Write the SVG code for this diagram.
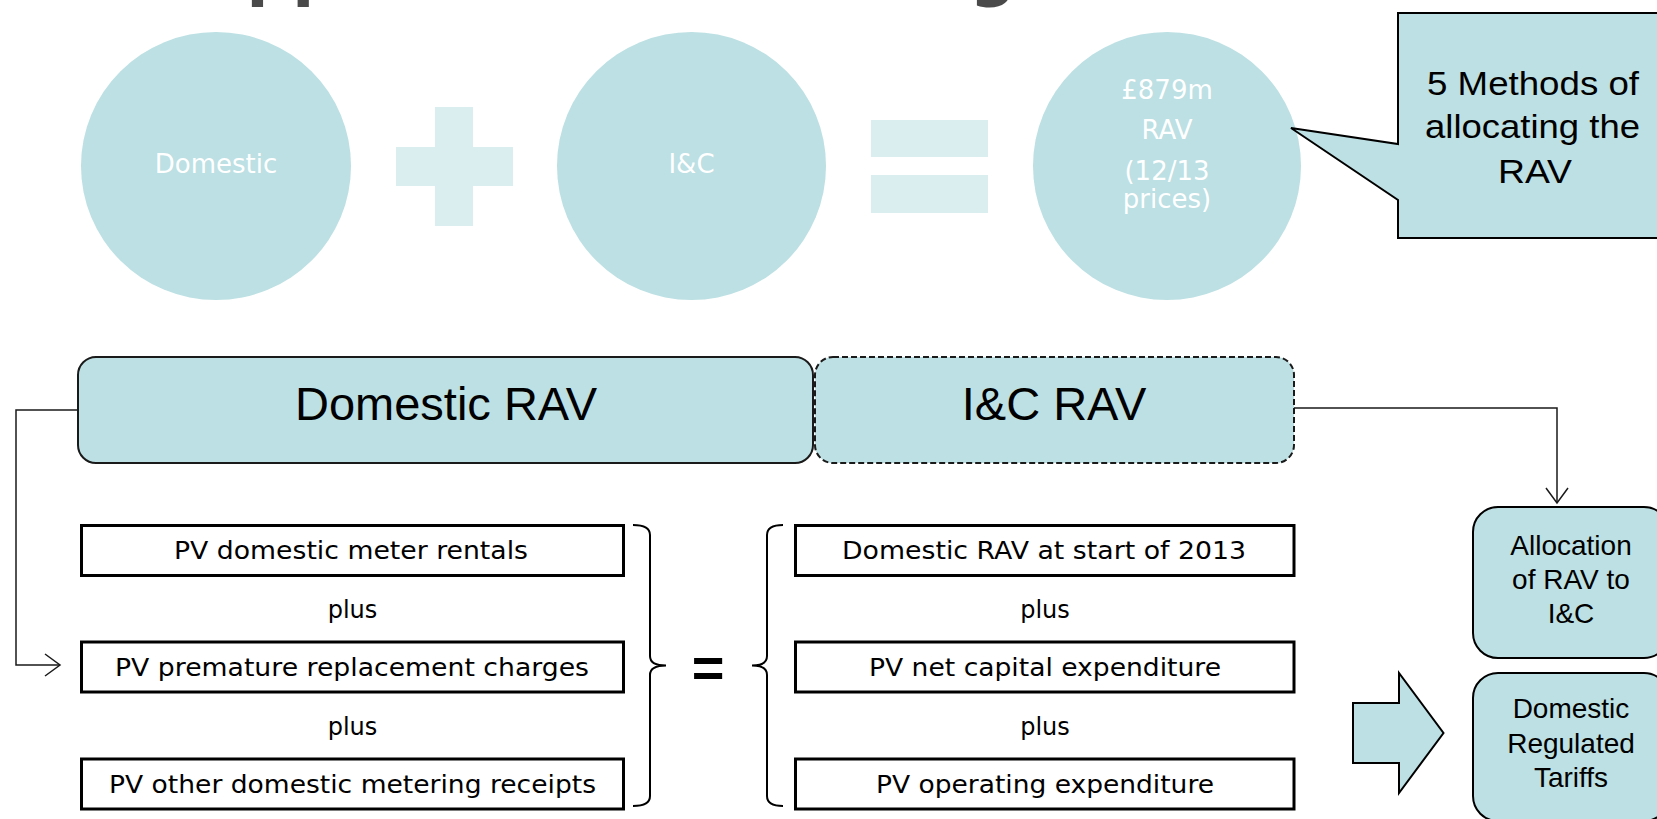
<svg xmlns="http://www.w3.org/2000/svg" width="1657" height="819" viewBox="0 0 1657 819">
  <defs>
    <style>
      .bubble { fill: #bce0e3; }
      .sym { fill: #daedef; }
      .bubble-text { font-family: "DejaVu Sans", Verdana, sans-serif; font-size: 26px; fill: #ffffff; text-anchor: middle; }
      .panel { fill: #bce0e3; stroke: #1a1a1a; stroke-width: 2; }
      .panel-dashed { fill: #bce0e3; stroke: #1a1a1a; stroke-width: 2; stroke-dasharray: 6 3; }
      .panel-title { font-family: "Liberation Sans", Arial, sans-serif; font-size: 47px; fill: #000; text-anchor: middle; }
      .item { fill: #ffffff; stroke: #000; stroke-width: 3; }
      .item-text { font-family: "DejaVu Sans", Verdana, sans-serif; font-size: 24px; fill: #000; }
      .plus { font-family: "DejaVu Sans", Verdana, sans-serif; font-size: 24px; fill: #000; text-anchor: middle; }
      .brace { fill: none; stroke: #000; stroke-width: 2; }
      .side { fill: #bce0e3; stroke: #000; stroke-width: 2; }
      .side-text { font-family: "Liberation Sans", Arial, sans-serif; font-size: 28px; fill: #000; text-anchor: middle; }
      .callout-text { font-family: "Liberation Sans", Arial, sans-serif; font-size: 33px; fill: #000; }
      .link { fill: none; stroke: #1a1a1a; stroke-width: 1.5; }
    </style>
    <marker id="open-arrow" markerUnits="userSpaceOnUse" viewBox="0 0 18 24" refX="16" refY="12" markerWidth="18" markerHeight="24" orient="auto">
      <path d="M1,1 L16,12 L1,23" fill="none" stroke="#1a1a1a" stroke-width="1.5"/>
    </marker>
  </defs>

  <rect width="1657" height="819" fill="#ffffff"/>

  <!-- heading (runs off the top edge) -->
  <text x="197" y="-6" font-family="DejaVu Sans, Verdana, sans-serif" font-weight="bold" font-size="64" fill="#4a4a4a">Approach to allocating</text>

  <!-- top row: Domestic + I&C = RAV -->
  <g id="circle-domestic">
    <ellipse class="bubble" cx="216" cy="166" rx="135" ry="134"/>
    <text class="bubble-text" x="216" y="173">Domestic</text>
  </g>
  <g id="sign-plus">
    <rect class="sym" x="396" y="147" width="117" height="39"/>
    <rect class="sym" x="435" y="107" width="38" height="119"/>
  </g>
  <g id="circle-ic">
    <ellipse class="bubble" cx="691.5" cy="166" rx="134.5" ry="134"/>
    <text class="bubble-text" x="691.5" y="173">I&amp;C</text>
  </g>
  <g id="sign-equals">
    <rect class="sym" x="871" y="120" width="117" height="37"/>
    <rect class="sym" x="871" y="175" width="117" height="38"/>
  </g>
  <g id="circle-rav">
    <ellipse class="bubble" cx="1167" cy="166" rx="134" ry="134"/>
    <text class="bubble-text" x="1167" y="99">£879m</text>
    <text class="bubble-text" x="1167" y="139">RAV</text>
    <text class="bubble-text" x="1167" y="180">(12/13</text>
    <text class="bubble-text" x="1167" y="208">prices)</text>
  </g>

  <g id="callout-methods">
    <path class="side" d="M1398,13 H1672 V238 H1398 V200 L1291,128 L1398,144 Z"/>
    <text class="callout-text" x="1427" y="95" textLength="212" lengthAdjust="spacingAndGlyphs">5 Methods of</text>
    <text class="callout-text" x="1425" y="138" textLength="215" lengthAdjust="spacingAndGlyphs">allocating the</text>
    <text class="callout-text" x="1498" y="183" textLength="74" lengthAdjust="spacingAndGlyphs">RAV</text>
  </g>

  <!-- RAV split -->
  <g id="panel-domestic-rav">
    <rect class="panel" x="78" y="357" width="735" height="106" rx="18"/>
    <text class="panel-title" x="446" y="420">Domestic RAV</text>
  </g>
  <g id="panel-ic-rav">
    <rect class="panel-dashed" x="815" y="357" width="479" height="106" rx="18"/>
    <text class="panel-title" x="1054" y="420">I&amp;C RAV</text>
  </g>

  <!-- left-hand present values -->
  <g id="item-meter-rentals">
    <rect class="item" x="81.5" y="525.5" width="542" height="50"/>
    <text class="item-text" x="174" y="559" textLength="354" lengthAdjust="spacingAndGlyphs">PV domestic meter rentals</text>
  </g>
  <text class="plus" x="352.5" y="618">plus</text>
  <g id="item-replacement-charges">
    <rect class="item" x="81.5" y="642" width="542" height="50"/>
    <text class="item-text" x="115" y="676" textLength="474" lengthAdjust="spacingAndGlyphs">PV premature replacement charges</text>
  </g>
  <text class="plus" x="352.5" y="735">plus</text>
  <g id="item-other-receipts">
    <rect class="item" x="81.5" y="759" width="542" height="50"/>
    <text class="item-text" x="109" y="793" textLength="487" lengthAdjust="spacingAndGlyphs">PV other domestic metering receipts</text>
  </g>

  <g id="brace-left-group">
    <path class="brace" d="M633,525 Q650,525 650,535 V656 Q650,665.5 666,665.5 Q650,665.5 650,675 V796 Q650,806 633,806"/>
  </g>
  <g id="equals-sign">
    <text x="708" y="687" font-family="Liberation Sans, Arial, sans-serif" font-weight="bold" font-size="56" text-anchor="middle" fill="#000">=</text>
  </g>
  <g id="brace-right-group">
    <path class="brace" d="M783,525 Q767,525 767,535 V656 Q767,665.5 752,665.5 Q767,665.5 767,675 V796 Q767,806 783,806"/>
  </g>

  <!-- right-hand building blocks -->
  <g id="item-rav-2013">
    <rect class="item" x="795.5" y="525.5" width="498.5" height="50"/>
    <text class="item-text" x="842" y="559" textLength="404" lengthAdjust="spacingAndGlyphs">Domestic RAV at start of 2013</text>
  </g>
  <text class="plus" x="1045" y="618">plus</text>
  <g id="item-net-capex">
    <rect class="item" x="795.5" y="642" width="498.5" height="50"/>
    <text class="item-text" x="869" y="676" textLength="352" lengthAdjust="spacingAndGlyphs">PV net capital expenditure</text>
  </g>
  <text class="plus" x="1045" y="735">plus</text>
  <g id="item-opex">
    <rect class="item" x="795.5" y="759" width="498.5" height="50"/>
    <text class="item-text" x="876" y="793" textLength="338" lengthAdjust="spacingAndGlyphs">PV operating expenditure</text>
  </g>

  <g id="block-arrow">
    <path class="side" stroke-width="1.5" d="M1353,703 H1399 V673 L1443.5,733 L1399,793 V763 H1353 Z"/>
  </g>

  <g id="box-allocation">
    <rect class="side" x="1473" y="507" width="196" height="151" rx="25"/>
    <text class="side-text" x="1571" y="555">Allocation</text>
    <text class="side-text" x="1571" y="589">of RAV to</text>
    <text class="side-text" x="1571" y="623">I&amp;C</text>
  </g>
  <g id="box-tariffs">
    <rect class="side" x="1473" y="673" width="196" height="148" rx="25"/>
    <text class="side-text" x="1571" y="718">Domestic</text>
    <text class="side-text" x="1571" y="753">Regulated</text>
    <text class="side-text" x="1571" y="787">Tariffs</text>
  </g>

  <!-- connectors -->
  <g id="connectors">
    <path class="link" d="M78,410 H16 V665 H60" marker-end="url(#open-arrow)"/>
    <path class="link" d="M1294,408 H1557 V503" marker-end="url(#open-arrow)"/>
  </g>
</svg>
